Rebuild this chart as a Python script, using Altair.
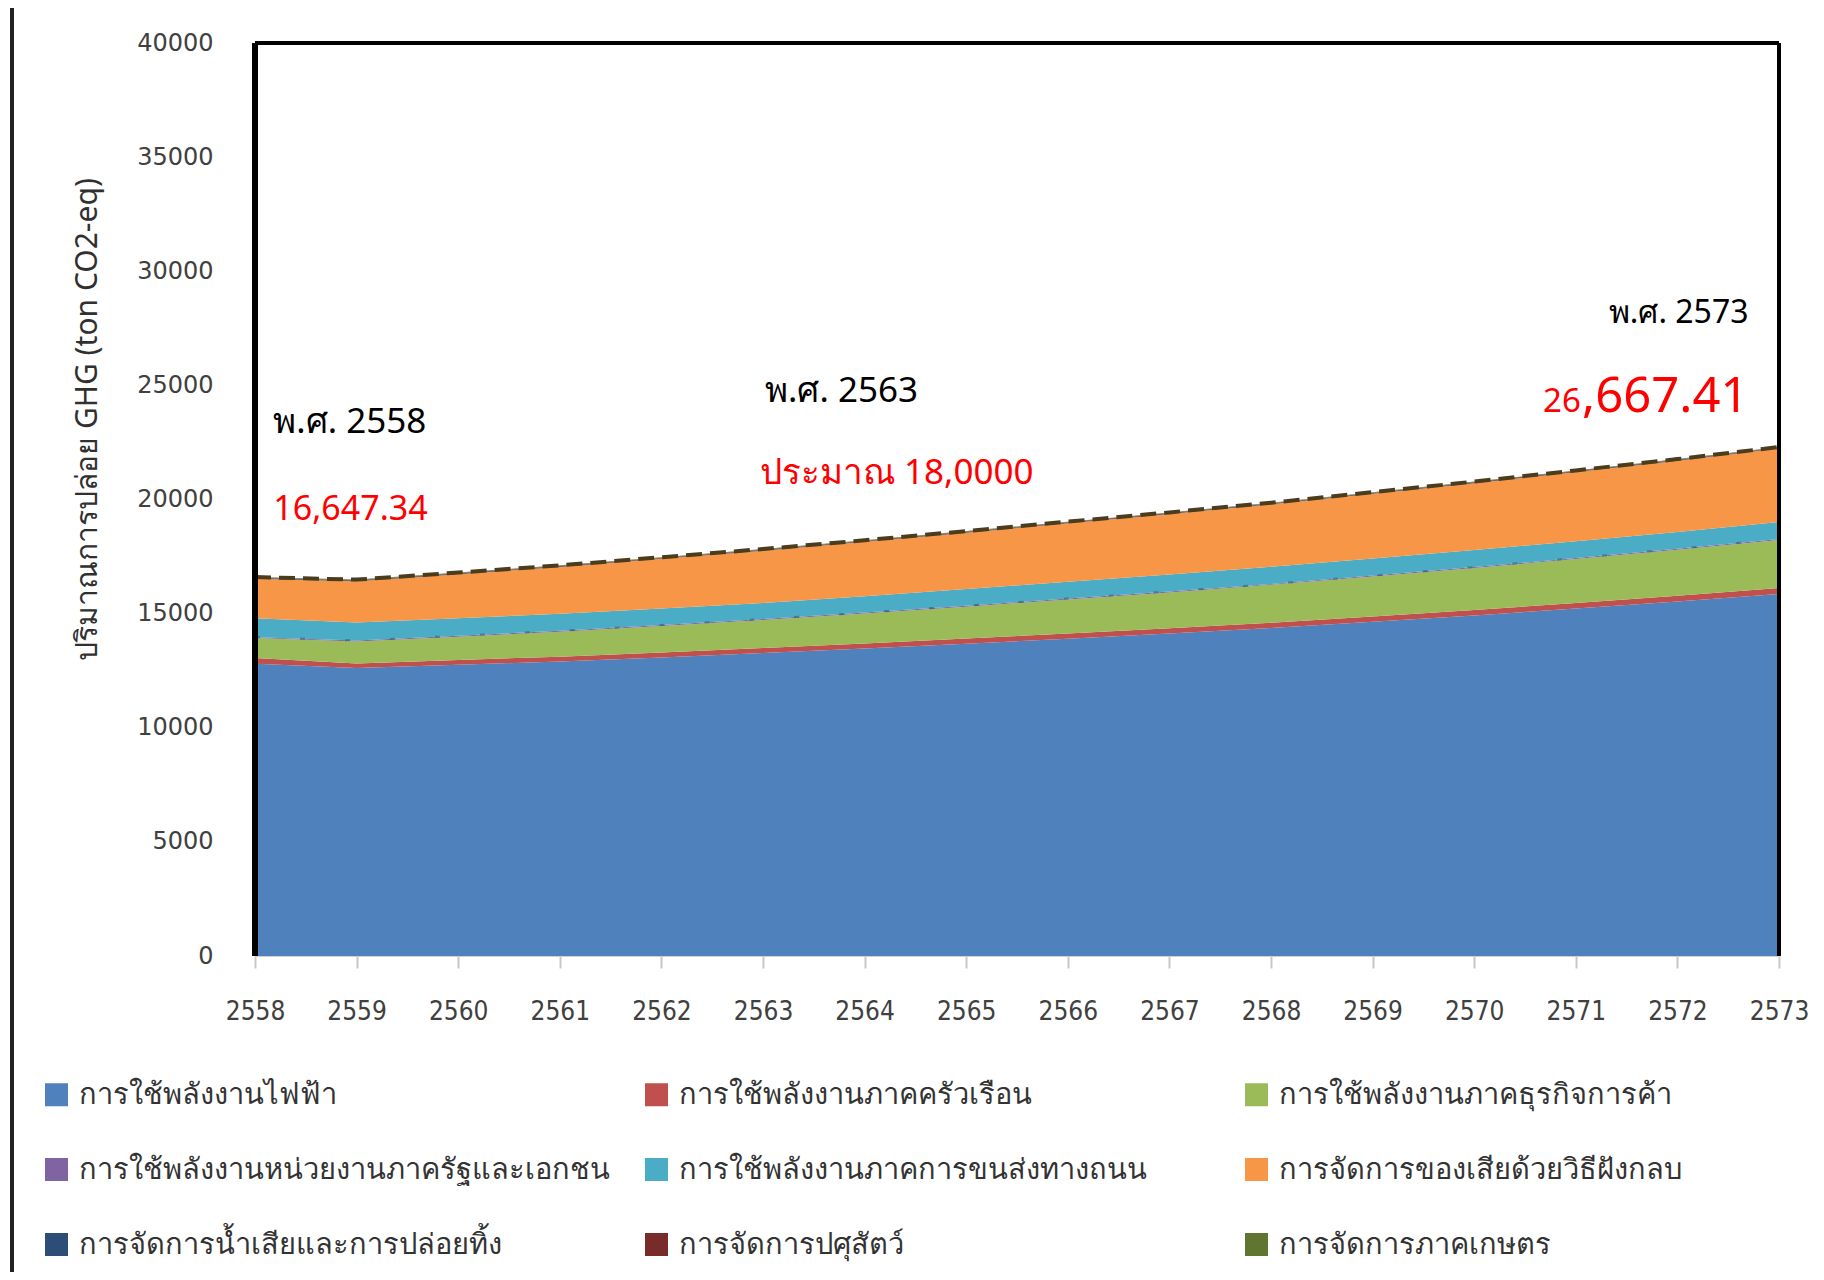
import altair as alt
import pandas as pd

years = list(range(2558, 2574))

series_names = [
    "การใช้พลังงานไฟฟ้า",
    "การใช้พลังงานภาคครัวเรือน",
    "การใช้พลังงานภาคธุรกิจการค้า",
    "การใช้พลังงานหน่วยงานภาครัฐและเอกชน",
    "การใช้พลังงานภาคการขนส่งทางถนน",
    "การจัดการของเสียด้วยวิธีฝังกลบ",
    "การจัดการน้ำเสียและการปล่อยทิ้ง",
    "การจัดการปศุสัตว์",
    "การจัดการภาคเกษตร",
]
series_colors = ["#4F81BD", "#C0504D", "#9BBB59", "#8064A2", "#4BACC6",
                 "#F79646", "#2C4D75", "#772C2A", "#5F7530"]

electricity = [12800, 12620, 12760, 12900, 13080, 13270, 13470, 13680, 13900, 14130, 14370, 14640, 14920, 15220, 15530, 15860]
household = [260, 200, 210, 215, 220, 220, 225, 225, 230, 230, 230, 235, 240, 245, 250, 260]
commercial = [870, 960, 1020, 1090, 1160, 1230, 1310, 1400, 1490, 1570, 1660, 1750, 1840, 1930, 2020, 2110]
government = [40] * 16
transport = [830, 790, 770, 750, 730, 710, 720, 730, 740, 745, 750, 745, 745, 740, 740, 740]
landfill = [1730, 1810, 1930, 2050, 2170, 2290, 2380, 2470, 2560, 2650, 2740, 2840, 2930, 3030, 3120, 3220]
wastewater = [30] * 16
livestock = [20] * 16
agriculture = [20] * 16

all_series = [electricity, household, commercial, government, transport,
              landfill, wastewater, livestock, agriculture]

y_ticks = list(range(0, 40001, 5000))

ann_text = ["พ.ศ. 2558", "16,647.34", "พ.ศ. 2563", "ประมาณ 18,0000", "พ.ศ. 2573", "26", ",667.41"]
ann_x = [2558.18, 2558.18, 2563.02, 2562.97, 2572.70, 2571.05, 2572.70]
ann_y = [22910, 19100, 24270, 20680, 27730, 23830, 23830]
ann_color = ["#000000", "#ff0000", "#000000", "#ff0000", "#000000", "#ff0000", "#ff0000"]
ann_size = [35, 34, 35, 35, 32, 33, 49]
ann_align = ["left", "left", "left", "left", "right", "right", "right"]

rows = []
for i, (name, vals) in enumerate(zip(series_names, all_series)):
    for yr, v in zip(years, vals):
        rows.append({"year": yr, "series": name, "value": v, "idx": i})
df = pd.DataFrame(rows)

totals = [sum(s[k] for s in all_series) for k in range(len(years))]
mid = [sum(s[k] for s in all_series[:4]) for k in range(len(years))]
line_df = pd.DataFrame({"year": years, "total": totals, "mid": mid})

W, H = 1524, 913

xscale = alt.Scale(domain=[2558, 2573], nice=False, zero=False)
yscale = alt.Scale(domain=[0, 40000], nice=False)

area = alt.Chart(df).mark_area(interpolate="linear").encode(
    x=alt.X("year:Q", scale=xscale,
            axis=alt.Axis(values=years, format="d", title=None, grid=False,
                          labelFontSize=26, labelFont="DejaVu Sans Condensed",
                          labelColor="#404040", tickColor="#c8c8c8", tickSize=12,
                          tickWidth=2, labelPadding=30, domain=True,
                          domainColor="#d0d0d0", domainWidth=1, labelFlush=False)),
    y=alt.Y("value:Q", stack="zero", scale=yscale,
            axis=alt.Axis(values=y_ticks, format="d", grid=False, ticks=False,
                          domain=False, labelFontSize=24, labelFont="DejaVu Sans",
                          labelColor="#404040", labelPadding=42,
                          title="ปริมาณการปล่อย GHG (ton CO2-eq)",
                          titleFontSize=30, titleFont="Noto Sans",
                          titleFontWeight="normal", titleColor="#303030",
                          titleX=-168, titleY=376, titleAngle=270,
                          titleBaseline="middle", titleAlign="center")),
    color=alt.Color("series:N",
                    scale=alt.Scale(domain=series_names, range=series_colors),
                    sort=series_names,
                    legend=alt.Legend(orient="none", legendX=-213, legendY=1037,
                                      columns=3, direction="horizontal",
                                      title=None, symbolType="square",
                                      symbolSize=529, symbolStrokeWidth=0,
                                      labelFontSize=29, labelFont="Noto Sans",
                                      labelColor="#333333", labelLimit=2000,
                                      labelOffset=8, columnPadding=32,
                                      rowPadding=45, gridAlign="all")),
    order=alt.Order("idx:Q", sort="ascending"),
)

top_line = alt.Chart(line_df).mark_line(color="#4a3c1c", strokeWidth=4,
                                        strokeDash=[16, 8]).encode(
    x=alt.X("year:Q", scale=xscale), y=alt.Y("total:Q", scale=yscale))
mid_line = alt.Chart(line_df).mark_line(color="#3d5f7a", strokeWidth=2,
                                        strokeDash=[5, 40], opacity=0.7).encode(
    x=alt.X("year:Q", scale=xscale), y=alt.Y("mid:Q", scale=yscale))

frame_left = alt.Chart(line_df).mark_rule(color="black", strokeWidth=5).encode(
    x=alt.datum(2558), y=alt.datum(0), y2=alt.datum(40000))
frame_right = alt.Chart(line_df).mark_rule(color="black", strokeWidth=3).encode(
    x=alt.datum(2573), y=alt.datum(0), y2=alt.datum(40000))
frame_top = alt.Chart(line_df).mark_rule(color="black", strokeWidth=3).encode(
    y=alt.datum(40000), x=alt.datum(2558), x2=alt.datum(2573))

outer_left = alt.Chart(line_df).mark_rule(color="#222222", strokeWidth=3).encode(
    x=alt.value(-243), y=alt.value(-35), y2=alt.value(1229))

texts = []
for t, xv, yv, c, s, a in zip(ann_text, ann_x, ann_y, ann_color, ann_size, ann_align):
    tdf = pd.DataFrame({"x": [xv], "y": [yv], "t": [t]})
    texts.append(alt.Chart(tdf).mark_text(color=c, fontSize=s, align=a,
                                          baseline="alphabetic", font="Noto Sans").encode(
        x=alt.X("x:Q", scale=xscale), y=alt.Y("y:Q", scale=yscale), text="t:N"))

chart = alt.layer(area, top_line, mid_line, frame_left, frame_right, frame_top,
                  outer_left, *texts).properties(
    width=W, height=H,
    padding={"left": 247, "top": 35, "right": 37, "bottom": 316},
    autosize=alt.AutoSizeParams(type="none"),
).configure_view(stroke=None).configure(background="white")

chart.save("out.html", embed_options={"renderer": "svg", "actions": False})
